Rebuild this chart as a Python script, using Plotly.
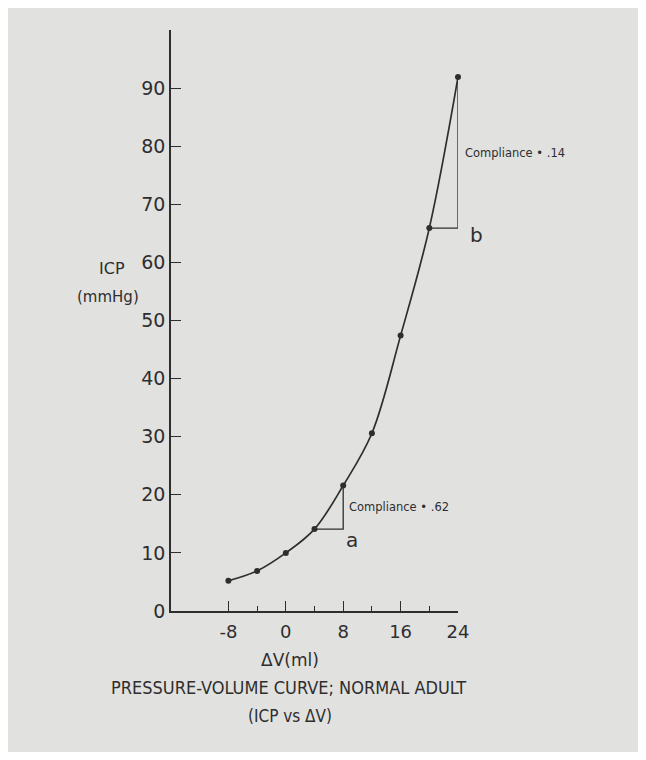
import plotly.graph_objects as go

# Data
delta_v = [-8, -4, 0, 4, 8, 12, 16, 20, 24]
icp = [5.2, 6.9, 10.0, 14.1, 21.6, 30.6, 47.4, 65.9, 91.9]

x_ticks = [-8, 0, 8, 16, 24]
x_tick_text = ["-8", "0", "8", "16", "24"]
x_minor = [-4, 4, 12, 20]
y_ticks = [0, 10, 20, 30, 40, 50, 60, 70, 80, 90]

compliance_a = ".62"
compliance_b = ".14"

INK = "#2e2e2e"
BG = "#e1e1e0"
FONT = "DejaVu Sans"
COND = "DejaVu Sans Condensed"

fig = go.Figure()

# smooth curve with dots
fig.add_trace(go.Scatter(
    x=delta_v, y=icp, mode="lines+markers",
    line=dict(color=INK, width=1.7, shape="spline", smoothing=1.0),
    marker=dict(color=INK, size=6),
    cliponaxis=False, showlegend=False, hoverinfo="skip"))

# compliance triangle a (between points 3 and 4)
ia, ja = 3, 4
fig.add_trace(go.Scatter(
    x=[delta_v[ia], delta_v[ja], delta_v[ja]],
    y=[icp[ia], icp[ia], icp[ja]],
    mode="lines", line=dict(color=INK, width=1.3),
    showlegend=False, hoverinfo="skip", cliponaxis=False))

# compliance triangle b (between points 7 and 8)
ib, jb = 7, 8
fig.add_trace(go.Scatter(
    x=[delta_v[ib], delta_v[jb], delta_v[jb]],
    y=[icp[ib], icp[ib], icp[jb]],
    mode="lines", line=dict(color=INK, width=1.3),
    showlegend=False, hoverinfo="skip", cliponaxis=False))

annos = [
    dict(x=delta_v[ja], y=(icp[ia] + icp[ja]) / 2, xref="x", yref="y",
         text="Compliance \u2022 " + compliance_a, showarrow=False,
         xanchor="left", xshift=4, font=dict(size=11.5, color=INK, family=FONT)),
    dict(x=delta_v[ja], y=icp[ia], xref="x", yref="y", text="a", showarrow=False,
         xanchor="left", yanchor="middle", xshift=1, yshift=-11,
         font=dict(size=20, color=INK, family=FONT)),
    dict(x=delta_v[jb], y=(icp[ib] + icp[jb]) / 2, xref="x", yref="y",
         text="Compliance \u2022 " + compliance_b, showarrow=False,
         xanchor="left", xshift=5, font=dict(size=11.5, color=INK, family=FONT)),
    dict(x=delta_v[jb], y=icp[ib], xref="x", yref="y", text="b", showarrow=False,
         xanchor="left", yanchor="middle", xshift=10, yshift=-7,
         font=dict(size=20, color=INK, family=FONT)),
    dict(x=-0.205, y=0.590, xref="paper", yref="paper", xanchor="center",
         yanchor="middle", text="ICP", showarrow=False,
         font=dict(size=16, color=INK, family=FONT)),
    dict(x=-0.22, y=0.540, xref="paper", yref="paper", xanchor="center",
         yanchor="middle", text="(mmHg)", showarrow=False,
         font=dict(size=15, color=INK, family=FONT)),
    dict(x=0.415, y=-0.084, xref="paper", yref="paper", xanchor="center",
         yanchor="middle", text="\u0394V(ml)", showarrow=False,
         font=dict(size=17, color=INK, family=FONT)),
    dict(x=0.408, y=-0.1325, xref="paper", yref="paper", xanchor="center",
         yanchor="middle", text="PRESSURE-VOLUME CURVE; NORMAL ADULT",
         showarrow=False, font=dict(size=18, color=INK, family=COND)),
    dict(x=0.415, y=-0.181, xref="paper", yref="paper", xanchor="center",
         yanchor="middle", text="(ICP vs \u0394V)", showarrow=False,
         font=dict(size=17, color=INK, family=COND)),
]

fig.update_layout(
    width=630, height=744, autosize=False,
    margin=dict(l=163, r=180, t=22, b=141),
    paper_bgcolor=BG, plot_bgcolor=BG,
    font=dict(family=FONT, color=INK, size=18),
    annotations=annos,
    xaxis=dict(range=[-16, 24], tickvals=x_ticks, ticktext=x_tick_text,
               ticks="inside", ticklen=10, ticklabelstandoff=4,
               tickwidth=1.3, tickcolor=INK, showline=True, linecolor=INK,
               linewidth=1.6, showgrid=False, zeroline=False,
               minor=dict(tickvals=x_minor, ticks="inside", ticklen=5,
                          tickcolor=INK, tickwidth=1.3),
               tickfont=dict(size=18, color=INK), fixedrange=True),
    yaxis=dict(range=[0, 100], tickvals=y_ticks, ticks="inside", ticklen=10,
               tickwidth=1.3, tickcolor=INK, showline=True, linecolor=INK,
               linewidth=1.6, showgrid=False, zeroline=False,
               tickfont=dict(size=19, color=INK), fixedrange=True),
)

fig.write_html("out.html")
